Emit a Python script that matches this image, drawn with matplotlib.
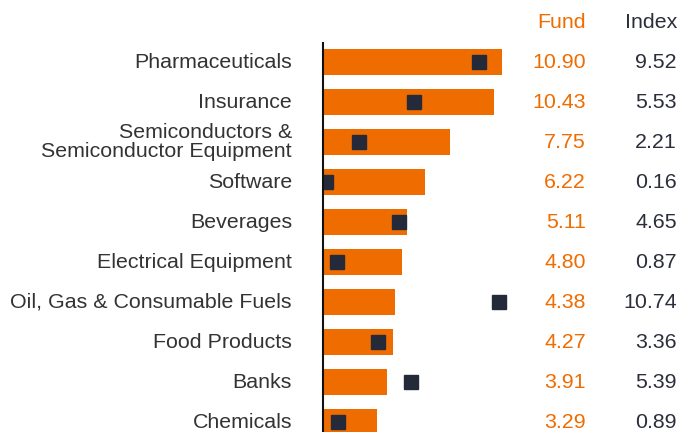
import matplotlib.pyplot as plt
import matplotlib.transforms as transforms

# data
sectors = ['Pharmaceuticals', 'Insurance', 'Semiconductors &\nSemiconductor Equipment',
           'Software', 'Beverages', 'Electrical Equipment', 'Oil, Gas & Consumable Fuels',
           'Food Products', 'Banks', 'Chemicals']
fund = [10.90, 10.43, 7.75, 6.22, 5.11, 4.80, 4.38, 4.27, 3.91, 3.29]
index = [9.52, 5.53, 2.21, 0.16, 4.65, 0.87, 10.74, 3.36, 5.39, 0.89]

orange = '#EF6C00'
navy = '#252A3A'
plt.rcParams['font.family'] = ['Liberation Sans', 'DejaVu Sans']

fig = plt.figure(figsize=(6.8, 4.32), dpi=100)
# axes placed in pixel terms: left edge at 323px, top at 43px
ax = fig.add_axes([323/680, 0, 188.6/680, 1 - 43/432])

y = list(range(len(sectors)))
ax.barh(y, fund, height=0.65, color=orange)
ax.plot(index, y, linestyle='none', marker='s', markersize=10, color=navy)

ax.set_xlim(0, 11.5)
ax.set_ylim(9.25, -0.475)
for s in ['top', 'right', 'bottom']:
    ax.spines[s].set_visible(False)
ax.spines['left'].set_linewidth(1.5)
ax.spines['left'].set_color('#111111')
ax.set_xticks([])
ax.set_yticks([])

# text columns: x in figure fraction, y in data rows
tr = transforms.blended_transform_factory(fig.transFigure, ax.transData)

fs = 15.4
for i, name in enumerate(sectors):
    ax.text(292/680, i, name, transform=tr, ha='right', va='center',
            fontsize=fs, color='#333333', linespacing=0.95)
    ax.text(586/680, i, f'{fund[i]:.2f}', transform=tr, ha='right', va='center',
            fontsize=fs, color=orange)
    ax.text(677/680, i, f'{index[i]:.2f}', transform=tr, ha='right', va='center',
            fontsize=fs, color='#2B2F3B')

ax.text(586/680, -1, 'Fund', transform=tr, ha='right', va='center', fontsize=fs, color=orange)
ax.text(677/680, -1, 'Index', transform=tr, ha='right', va='center', fontsize=fs, color='#2B2F3B')

fig.savefig('out.png', dpi=100)
